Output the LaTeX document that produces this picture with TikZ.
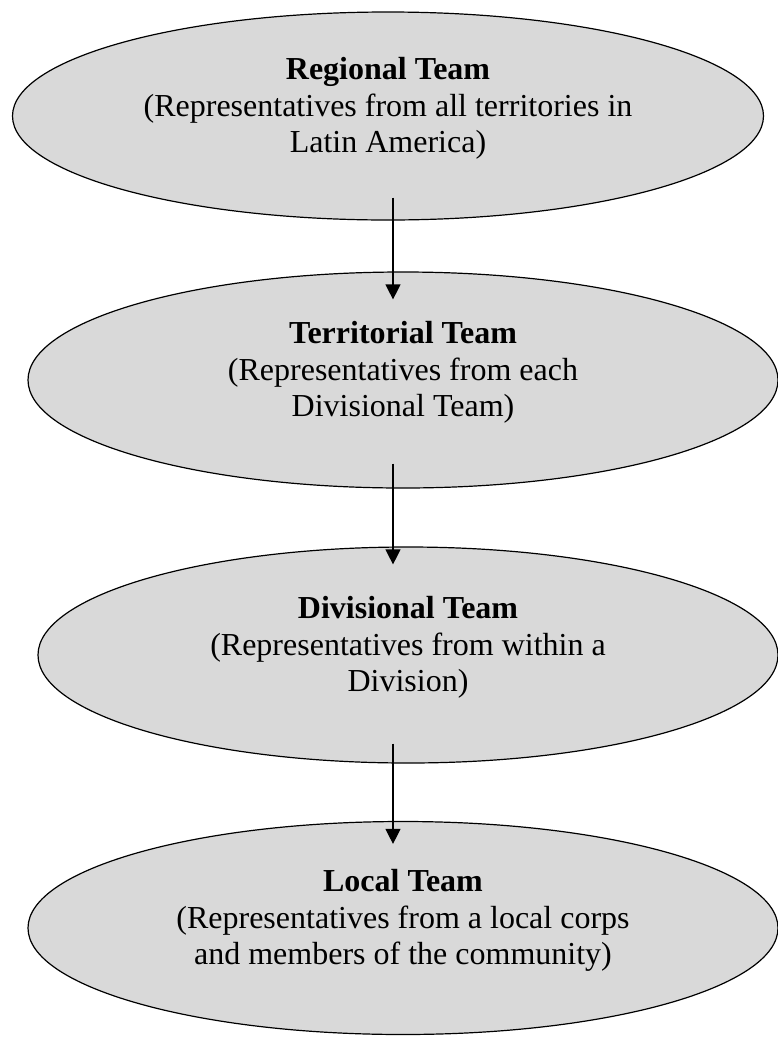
\documentclass[tikz,border=0pt]{standalone}
\usepackage{fontspec}
\setmainfont{Liberation Serif}
\usetikzlibrary{shapes.geometric,arrows.meta}
\definecolor{teamgray}{RGB}{217,217,217}

\begin{document}
\begin{tikzpicture}[x=1pt,y=-1pt,
    team/.style={ellipse,draw,fill=teamgray,line width=1.2pt,inner sep=0pt,
      align=center,font=\fontsize{32}{36.8}\selectfont,text depth=22pt},
    link/.style={-{Triangle[width=15pt,length=15pt]},line width=1.2pt}]
      \useasboundingbox (0,0) rectangle (778,1037);

      \node[team,minimum width=751pt,minimum height=208pt] (reg) at (388,116)
        {\textbf{Regional Team}\\(Representatives from all territories in\\Latin America)};
      \node[team,minimum width=750pt,minimum height=216pt] (ter) at (403,380)
        {\textbf{Territorial Team}\\(Representatives from each\\Divisional Team)};
      \node[team,minimum width=740pt,minimum height=216pt] (div) at (408,655)
        {\textbf{Divisional Team}\\(Representatives from within a\\Division)};
      \node[team,minimum width=750pt,minimum height=213pt] (loc) at (403,928)
        {\textbf{Local Team}\\(Representatives from a local corps\\and members of the community)};

      \draw[link] ([xshift=5pt,yshift=23pt]reg.south) -- ([xshift=-10pt,yshift=-28pt]ter.north);
      \draw[link] ([xshift=-10pt,yshift=25pt]ter.south) -- ([xshift=-15pt,yshift=-18pt]div.north);
      \draw[link] ([xshift=-15pt,yshift=20pt]div.south) -- ([xshift=-10pt,yshift=-23pt]loc.north);
    \end{tikzpicture}
\end{document}
